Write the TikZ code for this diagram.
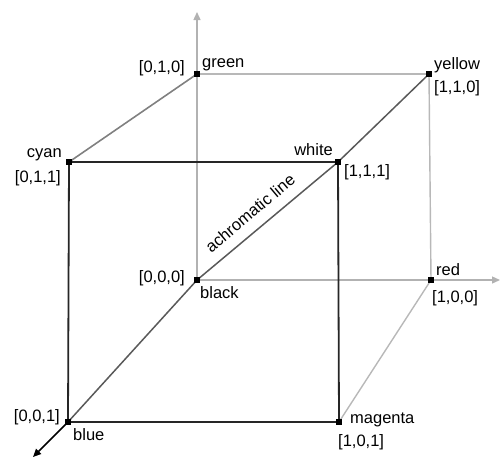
\documentclass[tikz,border=0pt]{standalone}
\usepackage{fontspec}
\setmainfont{Liberation Sans}
\usetikzlibrary{arrows.meta}
\begin{document}
\begin{tikzpicture}[x=1pt,y=-1pt,
  vtx/.style={fill=black,inner sep=0pt,minimum size=5pt,rectangle},
  lab/.style={inner sep=1pt,font=\fontsize{16.5}{16.5}\selectfont},
  front/.style={draw=black!85,line width=1.8pt},
  back/.style={draw=black!28,line width=1.4pt},
  mid/.style={draw=black!50,line width=1.6pt},
  achro/.style={draw=black!65,line width=1.5pt},
  axis/.style={draw=black!30,line width=1.4pt,-{Triangle[length=8pt,width=7pt]}}]
\useasboundingbox (0,0) rectangle (501,459);
% vertices
\node[vtx] (black) at (197,280) {};
\node[vtx] (green) at (197,74) {};
\node[vtx] (red) at (431,280) {};
\node[vtx] (yellow) at (429,74) {};
\node[vtx] (cyan) at (69,162) {};
\node[vtx] (white) at (338,162) {};
\node[vtx] (blue) at (68,422) {};
\node[vtx] (magenta) at (339,422) {};
\coordinate (ytip) at (197,12);
\coordinate (xtip) at (500,280);
\coordinate (ztip) at (33,457);
% axes and back edges
\draw[axis] (black.center) -- (ytip);
\draw[axis] (black.center) -- (xtip);
\draw[back] (green.center) -- (yellow.center);
\draw[back] (yellow.center) -- (red.center);
\draw[back] (red.center) -- (magenta.center);
\draw[mid] (cyan.center) -- (green.center);
% achromatic line
\draw[achro] (blue.center) -- (black.center) -- (white.center) -- (yellow.center);
\draw[draw=black,line width=1.6pt,-{Triangle[length=8pt,width=7pt]}] (blue.center) -- (ztip);
% front face
\draw[front] (cyan.center) -- (white.center) -- (magenta.center) -- (blue.center) -- cycle;
% markers on top
\foreach \v in {black,green,red,yellow,cyan,white,blue,magenta}
  \fill (\v.center) ++(-2.7,-2.7) rectangle ++(5.4,5.4);
% text on achromatic line
\node[lab,rotate=40,anchor=south,inner sep=1.5pt] (achrolab) at (255,219) {achromatic line};
% labels
\node[lab,anchor=east] (lgreen) at (186,68) {[0,1,0]};
\node[lab,anchor=west] (ngreen) at (201,65) {green};
\node[lab,anchor=east] (ncyan) at (63,155) {cyan};
\node[lab,anchor=east] (lcyan) at (62,178) {[0,1,1]};
\node[lab,anchor=west] (nyellow) at (433,65) {yellow};
\node[lab,anchor=west] (lyellow) at (433,88) {[1,1,0]};
\node[lab,anchor=east] (nwhite) at (334,150) {white};
\node[lab,anchor=west] (lwhite) at (343,172) {[1,1,1]};
\node[lab,anchor=east] (lblack) at (186,278) {[0,0,0]};
\node[lab,anchor=west] (nblack) at (199,293) {black};
\node[lab,anchor=west] (nred) at (435,270) {red};
\node[lab,anchor=west] (lred) at (431,298) {[1,0,0]};
\node[lab,anchor=east] (lblue) at (61,417) {[0,0,1]};
\node[lab,anchor=west] (nblue) at (72,435) {blue};
\node[lab,anchor=west] (nmagenta) at (349,420) {magenta};
\node[lab,anchor=west] (lmagenta) at (337,442) {[1,0,1]};
\end{tikzpicture}
\end{document}
